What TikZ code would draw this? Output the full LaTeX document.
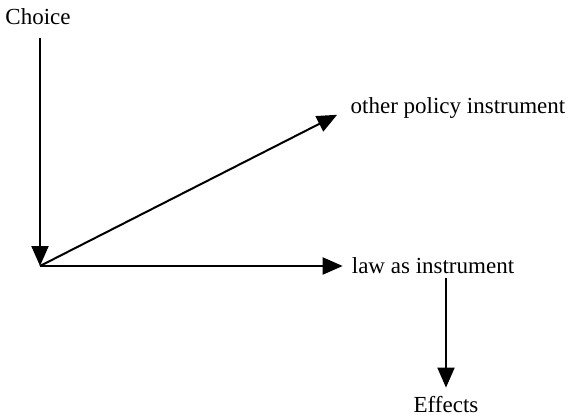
\documentclass[tikz,border=0pt]{standalone}
\usepackage{fontspec}
\setmainfont{Liberation Serif}
\usetikzlibrary{arrows.meta}
\begin{document}
\begin{tikzpicture}[x=1pt,y=-1pt, lbl/.style={font=\fontsize{23}{26}\selectfont, inner sep=0pt}, arr/.style={line width=2pt, -{Triangle[length=20pt,width=17pt]}}]
\useasboundingbox (0,0) rectangle (568,420);
\path (38,17) node[lbl] (choice) {Choice}
(458,108) node[lbl] (other) {other policy instrument}
(433,266) node[lbl] (law) {law as instrument}
(446,405) node[lbl] (effects) {Effects};
\coordinate (j) at (40,266);
\draw[arr] ([yshift=-13pt]j |- choice.south) -- (j);
\foreach \d/\s in {law/9, other/15} \draw[arr,shorten >=\s pt] (j) -- (\d.west);
\draw[arr,shorten <=4pt,shorten >=9pt] (effects |- law.south) -- (effects.north);
\end{tikzpicture}
\end{document}
